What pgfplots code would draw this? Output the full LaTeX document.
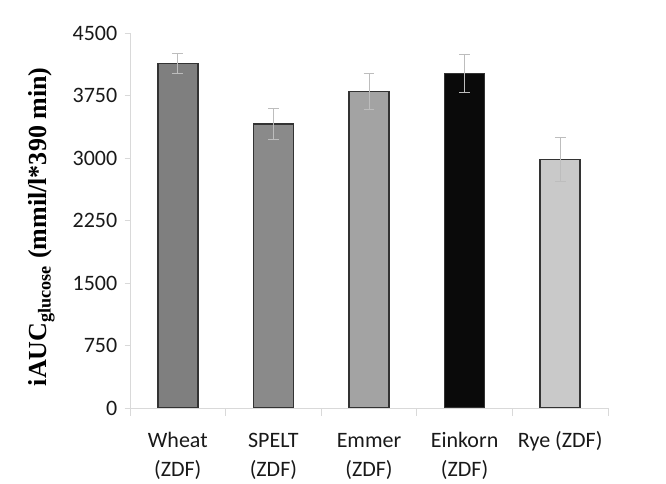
\documentclass[border=0pt]{standalone}
\usepackage{pgfplots}
\pgfplotsset{compat=1.18}
\usepackage{fontspec}
\setmainfont{Carlito}
\newfontfamily\labelfont{Liberation Serif}

\definecolor{cWheat}{HTML}{7F7F7F}
\definecolor{cSpelt}{HTML}{8A8A8A}
\definecolor{cEmmer}{HTML}{A3A3A3}
\definecolor{cEinkorn}{HTML}{0A0A0A}
\definecolor{cRye}{HTML}{C9C9C9}
\definecolor{axisgray}{HTML}{D9D9D9}
\definecolor{errgray}{HTML}{BDBDBD}

\begin{document}
\begin{tikzpicture}
\path[use as bounding box] (0,0) rectangle (499.5pt,363pt);
\begin{axis}[
  at={(97.5pt,57pt)}, anchor=south west,
  scale only axis, width=358.5pt, height=281.25pt,
  ybar, bar width=30pt,
  xmin=-0.5, xmax=4.5, ymin=0, ymax=4500,
  axis x line*=bottom, axis y line*=left,
  axis line style={axisgray, line width=0.6pt},
  x axis line style={-}, y axis line style={-},
  xtick={0,1,2,3,4},
  xticklabels={{\strut Wheat\\(ZDF)},{\strut SPELT\\(ZDF)},{\strut Emmer\\(ZDF)},{\strut Einkorn\\(ZDF)},{\strut Rye (ZDF)}},
  minor xtick={-0.5,0.5,1.5,2.5,3.5,4.5},
  ytick={0,750,1500,2250,3000,3750,4500},
  tick align=outside,
  major tick length=4pt,
  minor tick length=6pt,
  x tick style={draw=none},
  minor x tick style={draw=axisgray, line width=0.6pt},
  y tick style={axisgray, line width=0.6pt},
  tick label style={font=\fontsize{16.5}{21.5}\selectfont, text=black!90},
  xticklabel style={align=center, yshift=-7pt},
  yticklabel style={xshift=-2pt, /pgf/number format/.cd, set thousands separator={}, fixed},
  /pgf/number format/assume math mode=true,
  every axis y label/.style={at={(axis description cs:-0.185,0.483)}, rotate=90, anchor=center},
  ylabel={\labelfont\bfseries\fontsize{19.5}{22}\selectfont iAUC\textsubscript{glucose} (mmil/l*390 min)},
  error bars/error bar style={errgray, line width=0.6pt},
  error bars/error mark options={rotate=90, mark size=4pt, errgray, line width=0.6pt},
]
\addplot[bar shift=0pt, fill=cWheat, draw=black!80, line width=1.2pt,
  error bars/.cd, y dir=both, y explicit]
  coordinates {(0,4136) +- (0,120)};
\addplot[bar shift=0pt, fill=cSpelt, draw=black!80, line width=1.2pt,
  error bars/.cd, y dir=both, y explicit]
  coordinates {(1,3408) +- (0,185)};
\addplot[bar shift=0pt, fill=cEmmer, draw=black!80, line width=1.2pt,
  error bars/.cd, y dir=both, y explicit]
  coordinates {(2,3796) +- (0,215)};
\addplot[bar shift=0pt, fill=cEinkorn, draw=black!80, line width=1.2pt,
  error bars/.cd, y dir=both, y explicit]
  coordinates {(3,4012) +- (0,230)};
\addplot[bar shift=0pt, fill=cRye, draw=black!80, line width=1.2pt,
  error bars/.cd, y dir=both, y explicit]
  coordinates {(4,2984) +- (0,262)};
\end{axis}
\end{tikzpicture}
\end{document}
